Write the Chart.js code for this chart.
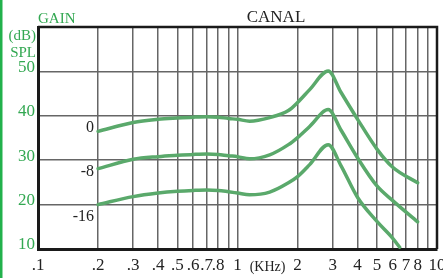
<!DOCTYPE html>
<html>
<head>
<meta charset="utf-8">
<script src="https://cdn.jsdelivr.net/npm/chart.js@4.4.0/dist/chart.umd.min.js"></script>
<style>
html, body { margin: 0; padding: 0; background: #fff; }
#caixa { position: relative; width: 443px; height: 278px; }
</style>
</head>
<body>
<div id="caixa"><canvas id="grafico" width="443" height="278"></canvas></div>
<script>
// Dados (frequência em kHz, ganho em dB SPL)
const frequencias = [0.2, 0.3, 0.4, 0.5, 0.6, 0.7, 0.8, 0.9, 1.0, 1.15, 1.45, 1.8, 2.0, 2.3, 2.85, 3.3, 4, 5, 6, 8];
const ganho0 = [36.5, 38.5, 39.2, 39.5, 39.7, 39.8, 39.7, 39.4, 39.2, 38.8, 39.6, 41.2, 43.0, 45.9, 50.1, 45.3, 39.2, 32.5, 28.4, 24.9];
const ganho8 = [28.1, 30.2, 30.8, 31.1, 31.3, 31.4, 31.3, 31.0, 30.8, 30.3, 31.2, 33.5, 35.1, 37.6, 41.4, 36.8, 30.5, 24.2, 20.9, 16.1];
const frequencias16 = [0.2, 0.3, 0.4, 0.5, 0.6, 0.7, 0.8, 0.9, 1.0, 1.15, 1.45, 1.8, 2.0, 2.3, 2.85, 3.3, 4, 5, 6, 6.5];
const ganho16 = [20.0, 21.8, 22.6, 23.0, 23.2, 23.3, 23.2, 22.9, 22.6, 22.2, 22.8, 24.9, 26.3, 29.0, 33.5, 28.8, 21.6, 16.2, 12.4, 10.4];

const rotulosCurvas = ['0', '-8', '-16'];
const rotulosCurvasDb = [36.4, 26.5, 16.3];

const ticksX = [0.1, 0.2, 0.3, 0.4, 0.5, 0.6, 0.7, 0.8, 0.9, 1, 2, 3, 4, 5, 6, 7, 8, 9, 10];
const rotulosX = ['.1', '.2', '.3', '.4', '.5', '.6', '.7', '.8', '', '1', '2', '3', '4', '5', '6', '7', '8', '', '10'];
const ticksY = [10, 20, 30, 40, 50, 60];
const rotulosY = ['10', '20', '30', '40', '50', ''];

const verde = '#33a852';
const verdeCurva = '#5aa96b';
const fonte = 'Liberation Serif, "DejaVu Serif", serif';

function pontos(xs, ys) {
    return xs.map((f, i) => ({ x: f, y: ys[i] }));
}

// Textos extras: GAIN, (dB), SPL, CANAL, (KHz), rótulos das curvas e moldura
const textos = {
    id: 'textos',
    beforeDraw(chart) {
        const ctx = chart.ctx;
        ctx.save();
        ctx.fillStyle = '#22b14c';
        ctx.fillRect(0, 0, 2.5, chart.height);
        ctx.restore();
    },
    afterDraw(chart) {
        const { ctx, chartArea, scales } = chart;
        const x = scales.x, y = scales.y;
        ctx.save();

        // moldura de cima e da direita
        ctx.strokeStyle = '#1a1a1a';
        ctx.lineWidth = 2.5;
        ctx.beginPath();
        ctx.moveTo(chartArea.left, chartArea.top);
        ctx.lineTo(chartArea.right, chartArea.top);
        ctx.lineTo(chartArea.right, chartArea.bottom);
        ctx.stroke();

        ctx.fillStyle = verde;
        ctx.font = '15px ' + fonte;
        ctx.textBaseline = 'alphabetic';
        ctx.textAlign = 'left';
        ctx.fillText('GAIN', chartArea.left, 23);
        ctx.textAlign = 'right';
        ctx.fillText('(dB)', 36, 40);
        ctx.fillText('SPL', 36, 57);

        ctx.fillStyle = '#222';
        ctx.font = '17px ' + fonte;
        ctx.textAlign = 'center';
        ctx.fillText('CANAL', 276, 22);

        ctx.font = '14px ' + fonte;
        const meio = (x.getPixelForValue(1) + x.getPixelForValue(2)) / 2;
        ctx.fillText('(KHz)', meio, x.top + 22);

        ctx.font = '16px ' + fonte;
        ctx.textAlign = 'right';
        rotulosCurvas.forEach((r, i) => {
            ctx.fillText(r, x.getPixelForValue(0.2) - 4, y.getPixelForValue(rotulosCurvasDb[i]));
        });
        ctx.restore();
    }
};

const estiloCurva = {
    borderColor: verdeCurva,
    borderWidth: 3.5,
    borderCapStyle: 'round',
    pointRadius: 0,
    cubicInterpolationMode: 'monotone',
    fill: false
};

new Chart(document.getElementById('grafico'), {
    type: 'line',
    data: {
        datasets: [
            { label: '0', data: pontos(frequencias, ganho0), ...estiloCurva },
            { label: '-8', data: pontos(frequencias, ganho8), ...estiloCurva },
            { label: '-16', data: pontos(frequencias16, ganho16), ...estiloCurva }
        ]
    },
    options: {
        responsive: false,
        animation: false,
        events: [],
        layout: { padding: { left: 0, top: 27, right: 6, bottom: 0 } },
        plugins: { legend: { display: false }, tooltip: { enabled: false }, title: { display: false } },
        scales: {
            x: {
                type: 'logarithmic',
                min: 0.1,
                max: 10,
                afterBuildTicks: (s) => { s.ticks = ticksX.map(v => ({ value: v })); },
                afterFit: (s) => { s.height = 29; s.paddingLeft = 0; s.paddingRight = 0; },
                ticks: {
                    autoSkip: false,
                    maxRotation: 0,
                    minRotation: 0,
                    padding: 6,
                    color: '#222',
                    font: { family: fonte, size: 17 },
                    callback: (v, i) => rotulosX[i]
                },
                grid: { color: '#666', lineWidth: 1.5, drawTicks: false },
                border: { color: '#1a1a1a', width: 3 }
            },
            y: {
                type: 'linear',
                min: 10,
                max: 60,
                afterBuildTicks: (s) => { s.ticks = ticksY.map(v => ({ value: v })); },
                afterFit: (s) => { s.width = 38; s.paddingTop = 0; s.paddingBottom = 0; },
                ticks: {
                    padding: 3,
                    labelOffset: -4,
                    color: verde,
                    font: { family: fonte, size: 17 },
                    callback: (v, i) => rotulosY[i]
                },
                grid: { color: '#666', lineWidth: 1.5, drawTicks: false },
                border: { color: '#1a1a1a', width: 3 }
            }
        }
    },
    plugins: [textos]
});
</script>
</body>
</html>
